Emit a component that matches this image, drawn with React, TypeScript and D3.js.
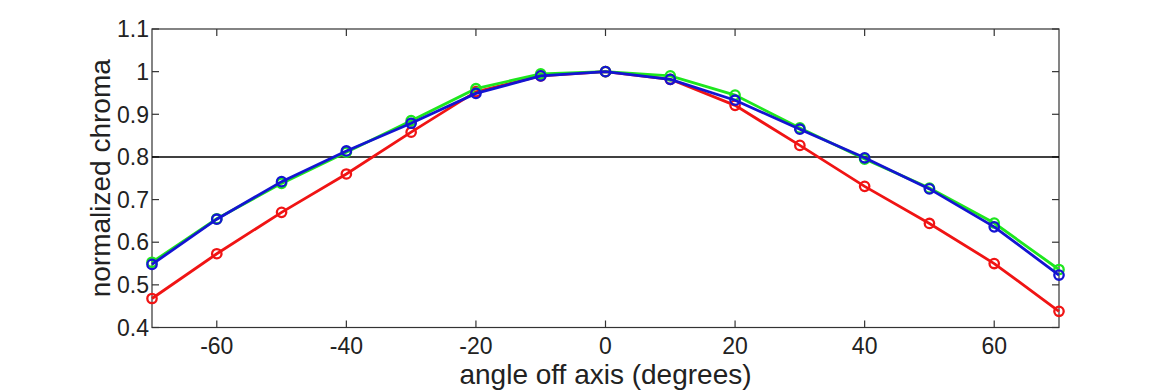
import React, { useEffect, useRef } from 'react'
import * as d3 from 'd3'

const angles = [-70, -60, -50, -40, -30, -20, -10, 0, 10, 20, 30, 40, 50, 60, 70]
const redValues = [0.468, 0.573, 0.67, 0.76, 0.858, 0.953, 0.99, 1.0, 0.982, 0.921, 0.827, 0.731, 0.644, 0.55, 0.438]
const greenValues = [0.553, 0.655, 0.738, 0.811, 0.885, 0.96, 0.995, 1.0, 0.99, 0.945, 0.868, 0.795, 0.727, 0.645, 0.536]
const blueValues = [0.548, 0.654, 0.742, 0.814, 0.879, 0.949, 0.99, 1.0, 0.982, 0.933, 0.865, 0.798, 0.725, 0.636, 0.523]
const xTicks = [-60, -40, -20, 0, 20, 40, 60]
const yTicks = [0.4, 0.5, 0.6, 0.7, 0.8, 0.9, 1, 1.1]
const threshold = 0.8

const series = [
    { name: 'red', color: '#f01414', values: redValues },
    { name: 'green', color: '#1ee61e', values: greenValues },
    { name: 'blue', color: '#1414d2', values: blueValues }
]

const W = 1170
const H = 390
const m = { left: 152, right: 1059, top: 29, bottom: 327.5 }
const font = '"Liberation Sans", Arial, Helvetica, sans-serif'

const App: React.FC = () => {
    const ref = useRef<SVGSVGElement>(null)
    useEffect(() => {
        const svg = d3.select(ref.current)
        svg.selectAll('*').remove()

        const x = d3.scaleLinear().domain([-70, 70]).range([m.left, m.right])
        const y = d3.scaleLinear().domain([0.4, 1.1]).range([m.bottom, m.top])

        // box
        svg.append('rect')
            .attr('x', m.left)
            .attr('y', m.top)
            .attr('width', m.right - m.left)
            .attr('height', m.bottom - m.top)
            .attr('fill', 'white')
            .attr('stroke', '#333')
            .attr('stroke-width', 1.2)

        const tl = 7
        const ticks = svg.append('g').attr('stroke', '#333').attr('stroke-width', 1.2)
        xTicks.forEach((t) => {
            ticks.append('line').attr('x1', x(t)).attr('x2', x(t)).attr('y1', m.bottom).attr('y2', m.bottom - tl)
            ticks.append('line').attr('x1', x(t)).attr('x2', x(t)).attr('y1', m.top).attr('y2', m.top + tl)
        })
        yTicks.forEach((t) => {
            ticks.append('line').attr('x1', m.left).attr('x2', m.left + tl).attr('y1', y(t)).attr('y2', y(t))
            ticks.append('line').attr('x1', m.right).attr('x2', m.right - tl).attr('y1', y(t)).attr('y2', y(t))
        })

        svg.append('g')
            .selectAll('text')
            .data(xTicks)
            .join('text')
            .attr('x', (d) => x(d))
            .attr('y', 354)
            .attr('text-anchor', 'middle')
            .attr('font-family', font)
            .attr('font-size', 23)
            .attr('fill', '#222')
            .text((d) => String(d))

        svg.append('g')
            .selectAll('text')
            .data(yTicks)
            .join('text')
            .attr('x', m.left - 3)
            .attr('y', (d) => y(d))
            .attr('dy', '0.36em')
            .attr('text-anchor', 'end')
            .attr('font-family', font)
            .attr('font-size', 23)
            .attr('fill', '#222')
            .text((d) => String(d))

        // threshold
        svg.append('line')
            .attr('x1', m.left)
            .attr('x2', m.right)
            .attr('y1', y(threshold))
            .attr('y2', y(threshold))
            .attr('stroke', 'black')
            .attr('stroke-width', 1.5)

        const line = d3
            .line<number>()
            .x((_, i) => x(angles[i]))
            .y((d) => y(d))

        series.forEach((s) => {
            const g = svg.append('g')
            g.append('path')
                .attr('d', line(s.values))
                .attr('fill', 'none')
                .attr('stroke', s.color)
                .attr('stroke-width', 2.8)
            g.selectAll('circle')
                .data(s.values)
                .join('circle')
                .attr('cx', (_, i) => x(angles[i]))
                .attr('cy', (d) => y(d))
                .attr('r', 4.7)
                .attr('fill', 'none')
                .attr('stroke', s.color)
                .attr('stroke-width', 2.3)
        })

        svg.append('text')
            .attr('x', (m.left + m.right) / 2)
            .attr('y', 384)
            .attr('text-anchor', 'middle')
            .attr('font-family', font)
            .attr('font-size', 28)
            .attr('fill', '#222')
            .text('angle off axis (degrees)')

        svg.append('text')
            .attr('transform', `translate(110, ${(m.top + m.bottom) / 2}) rotate(-90)`)
            .attr('text-anchor', 'middle')
            .attr('font-family', font)
            .attr('font-size', 28)
            .attr('fill', '#222')
            .text('normalized chroma')
    }, [])
    return (
        <div style={{ position: 'absolute', left: 0, top: 0, width: W, height: H, background: 'white' }}>
            <svg ref={ref} width={W} height={H} viewBox={`0 0 ${W} ${H}`} style={{ display: 'block' }}></svg>
        </div>
    )
}

export default App
